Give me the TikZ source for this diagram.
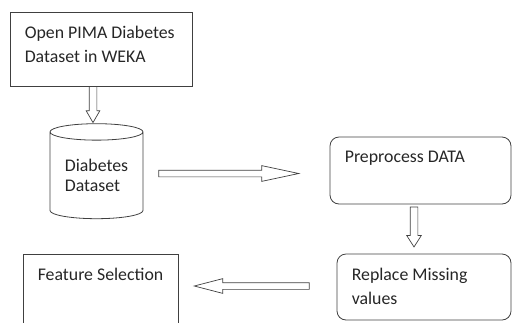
\documentclass[tikz,border=0pt]{standalone}
\usepackage{fontspec}
\setmainfont{Carlito}
\usetikzlibrary{positioning, shapes.geometric, shapes.arrows}

\begin{document}
\begin{tikzpicture}[x=1pt, y=-1pt,
  every node/.style={font=\fontsize{17.8}{24}\selectfont, align=left, text=black!85},
  box/.style={rectangle, draw=black!75, line width=0.8pt, inner sep=0pt},
  rbox/.style={box, rounded corners=9pt},
  txt/.style={anchor=north west, inner sep=0pt, xshift=15pt, yshift=-14pt},
  store/.style={cylinder, shape border rotate=90, draw=black!75, line width=0.8pt,
                aspect=0.26, inner sep=0pt, font=\fontsize{17.8}{20}\selectfont},
  harrow/.style={single arrow, draw=black!75, line width=0.7pt, inner xsep=0pt,
                 single arrow head indent=0pt}
]
  \clip (0,0) rectangle (513,322);

  \node[box, minimum width=182pt, minimum height=74pt,
        label={[txt]north west:Open PIMA Diabetes\\Dataset in WEKA}] (open) at (101,49) {};
  \node[store, minimum width=93pt, minimum height=95pt] (db) at (96.5,175.5) {Diabetes\\Dataset};
  \node[rbox, minimum width=181pt, minimum height=67pt,
        label={[txt]north west:Preprocess DATA}] (pre) at (420.5,170.5) {};
  \node[rbox, minimum width=174pt, minimum height=66pt,
        label={[txt]north west:Replace Missing\\values}] (rep) at (424,287) {};
  \node[box, minimum width=155pt, minimum height=90pt,
        label={[txt]north west:Feature Selection}] (feat) at (100.5,299) {};

  % hollow block arrows
  \node[harrow, minimum height=36pt, inner ysep=3.5pt, single arrow head extend=3pt,
        single arrow tip angle=60, rotate=-90, anchor=tip] (a1) at ([xshift=-3.5pt]db.north) {};
  \node[harrow, minimum height=140pt, inner ysep=3pt, single arrow head extend=4.5pt,
        single arrow tip angle=24, anchor=tail] (a2) at ([xshift=15pt, yshift=2pt]db.east) {};
  \node[harrow, minimum height=40pt, inner ysep=3.5pt, single arrow head extend=3.5pt,
        single arrow tip angle=65, rotate=-90, anchor=tip] (a3) at ([xshift=-10pt, yshift=6pt]rep.north) {};
  \node[harrow, minimum height=115pt, inner ysep=3pt, single arrow head extend=4pt,
        single arrow tip angle=29, rotate=180, anchor=tail] (a4) at ([xshift=-27pt, yshift=1pt]rep.west) {};
\end{tikzpicture}
\end{document}
